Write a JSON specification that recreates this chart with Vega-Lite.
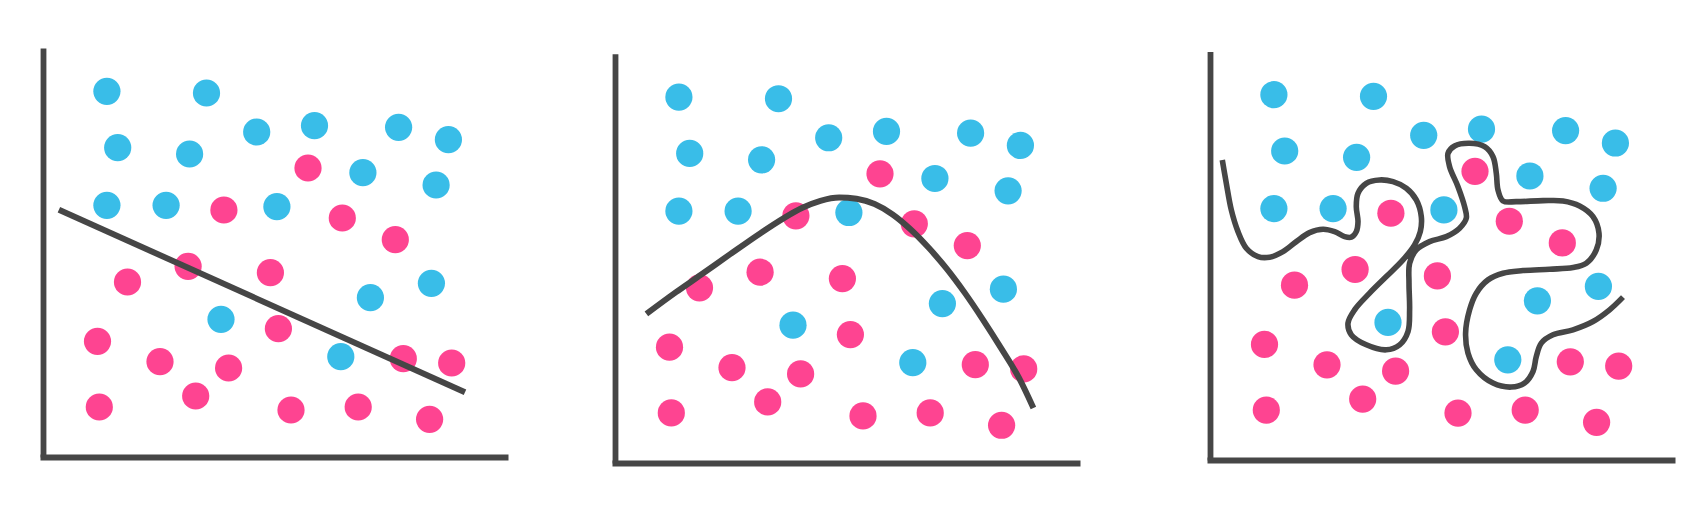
{
  "$schema": "https://vega.github.io/schema/vega-lite/v6.json",
  "background": "white",
  "padding": {"left": 43, "top": 48, "right": 5, "bottom": 5},
  "bounds": "flush",
  "spacing": 106,
  "config": {
    "view": {"stroke": null},
    "axis": {"domain": true, "domainColor": "#464646", "domainWidth": 5.8, "ticks": false, "labels": false, "grid": false, "title": null}
  },
  "datasets": {
    "pts": [
      {"x": 63.9, "y": 365.7, "c": "blue"}, {"x": 163.5, "y": 364.0, "c": "blue"}, {"x": 74.7, "y": 309.3, "c": "blue"},
      {"x": 146.6, "y": 303.0, "c": "blue"}, {"x": 213.7, "y": 325.0, "c": "blue"}, {"x": 271.5, "y": 331.3, "c": "blue"},
      {"x": 355.6, "y": 329.7, "c": "blue"}, {"x": 405.4, "y": 317.3, "c": "blue"}, {"x": 319.9, "y": 284.3, "c": "blue"},
      {"x": 393.1, "y": 272.0, "c": "blue"}, {"x": 63.9, "y": 251.7, "c": "blue"}, {"x": 123.1, "y": 251.7, "c": "blue"},
      {"x": 233.9, "y": 250.3, "c": "blue"}, {"x": 388.4, "y": 173.7, "c": "blue"}, {"x": 327.4, "y": 159.3, "c": "blue"},
      {"x": 178.0, "y": 137.7, "c": "blue"}, {"x": 297.8, "y": 100.3, "c": "blue"},
      {"x": 265.0, "y": 289.0, "c": "pink"}, {"x": 180.9, "y": 247.0, "c": "pink"}, {"x": 299.3, "y": 239.0, "c": "pink"},
      {"x": 352.3, "y": 217.3, "c": "pink"}, {"x": 145.1, "y": 190.7, "c": "pink"}, {"x": 84.5, "y": 175.0, "c": "pink"},
      {"x": 227.4, "y": 184.3, "c": "pink"}, {"x": 235.4, "y": 128.3, "c": "pink"}, {"x": 54.5, "y": 115.7, "c": "pink"},
      {"x": 117.0, "y": 95.3, "c": "pink"}, {"x": 185.6, "y": 89.0, "c": "pink"}, {"x": 360.3, "y": 98.3, "c": "pink"},
      {"x": 408.7, "y": 94.0, "c": "pink"}, {"x": 56.3, "y": 50.0, "c": "pink"}, {"x": 152.7, "y": 61.0, "c": "pink"},
      {"x": 248.0, "y": 47.0, "c": "pink"}, {"x": 315.2, "y": 50.0, "c": "pink"}, {"x": 386.6, "y": 37.7, "c": "pink"}
    ],
    "l1": [{"x": 15.9, "y": 247.3}, {"x": 422.0, "y": 64.7}],
    "l2": [
      {"x": 31.4, "y": 149.0}, {"x": 61.0, "y": 170.7}, {"x": 86.3, "y": 188.3}, {"x": 115.2, "y": 208.7},
      {"x": 144.0, "y": 228.7}, {"x": 169.3, "y": 245.0}, {"x": 187.4, "y": 255.0}, {"x": 205.4, "y": 262.0},
      {"x": 224.2, "y": 265.3}, {"x": 241.5, "y": 264.0}, {"x": 259.6, "y": 258.7}, {"x": 277.6, "y": 248.3},
      {"x": 295.7, "y": 233.3}, {"x": 313.7, "y": 215.0}, {"x": 331.8, "y": 194.0}, {"x": 349.8, "y": 170.0},
      {"x": 367.9, "y": 143.3}, {"x": 385.9, "y": 115.0}, {"x": 404.0, "y": 85.0}, {"x": 418.4, "y": 55.0}
    ],
    "l3": [
      {"i": 1, "x": 12.3, "y": 300.3}, {"i": 2, "x": 16.3, "y": 277.0}, {"i": 3, "x": 21.3, "y": 250.3}, {"i": 4, "x": 28.0, "y": 228.6},
      {"i": 5, "x": 36.3, "y": 212.0}, {"i": 6, "x": 48.0, "y": 203.6}, {"i": 7, "x": 59.6, "y": 203.0}, {"i": 8, "x": 73.0, "y": 208.6},
      {"i": 9, "x": 86.3, "y": 218.6}, {"i": 10, "x": 99.6, "y": 227.6}, {"i": 11, "x": 113.0, "y": 231.0}, {"i": 12, "x": 124.6, "y": 228.6},
      {"i": 13, "x": 134.6, "y": 223.6}, {"i": 14, "x": 141.3, "y": 223.0}, {"i": 15, "x": 146.3, "y": 228.6}, {"i": 16, "x": 148.0, "y": 238.6},
      {"i": 17, "x": 146.3, "y": 253.6}, {"i": 18, "x": 148.0, "y": 267.0}, {"i": 19, "x": 156.3, "y": 277.0}, {"i": 20, "x": 169.6, "y": 280.3},
      {"i": 21, "x": 183.0, "y": 278.6}, {"i": 22, "x": 196.3, "y": 272.0}, {"i": 23, "x": 206.3, "y": 260.3}, {"i": 24, "x": 211.3, "y": 243.6},
      {"i": 25, "x": 210.3, "y": 228.6}, {"i": 26, "x": 204.6, "y": 215.3}, {"i": 27, "x": 193.0, "y": 200.3}, {"i": 28, "x": 176.3, "y": 183.6},
      {"i": 29, "x": 159.6, "y": 167.0}, {"i": 30, "x": 144.6, "y": 150.3}, {"i": 31, "x": 138.0, "y": 137.0}, {"i": 32, "x": 141.3, "y": 125.3},
      {"i": 33, "x": 156.3, "y": 115.3}, {"i": 34, "x": 176.3, "y": 110.3}, {"i": 35, "x": 189.6, "y": 115.3}, {"i": 36, "x": 198.0, "y": 128.6},
      {"i": 37, "x": 199.6, "y": 150.3}, {"i": 38, "x": 199.0, "y": 177.0}, {"i": 39, "x": 199.6, "y": 197.0}, {"i": 40, "x": 206.3, "y": 210.3},
      {"i": 41, "x": 219.6, "y": 218.6}, {"i": 42, "x": 236.3, "y": 223.6}, {"i": 43, "x": 249.6, "y": 232.0}, {"i": 44, "x": 256.3, "y": 242.0},
      {"i": 45, "x": 254.6, "y": 253.6}, {"i": 46, "x": 248.0, "y": 273.6}, {"i": 47, "x": 239.6, "y": 293.6}, {"i": 48, "x": 238.0, "y": 307.0},
      {"i": 49, "x": 244.6, "y": 314.3}, {"i": 50, "x": 259.6, "y": 317.0}, {"i": 51, "x": 274.6, "y": 313.6}, {"i": 52, "x": 283.0, "y": 303.6},
      {"i": 53, "x": 286.3, "y": 287.0}, {"i": 54, "x": 288.0, "y": 270.3}, {"i": 55, "x": 293.0, "y": 259.3}, {"i": 56, "x": 306.3, "y": 258.6},
      {"i": 57, "x": 333.0, "y": 259.6}, {"i": 58, "x": 353.0, "y": 259.3}, {"i": 59, "x": 369.6, "y": 254.3}, {"i": 60, "x": 383.0, "y": 243.6},
      {"i": 61, "x": 389.0, "y": 227.0}, {"i": 62, "x": 386.3, "y": 210.3}, {"i": 63, "x": 376.3, "y": 197.0}, {"i": 64, "x": 363.0, "y": 192.6},
      {"i": 65, "x": 339.6, "y": 191.0}, {"i": 66, "x": 313.0, "y": 189.6}, {"i": 67, "x": 293.0, "y": 187.0}, {"i": 68, "x": 278.0, "y": 180.3},
      {"i": 69, "x": 266.3, "y": 167.0}, {"i": 70, "x": 259.6, "y": 150.3}, {"i": 71, "x": 255.6, "y": 127.0}, {"i": 72, "x": 258.0, "y": 107.0},
      {"i": 73, "x": 266.3, "y": 90.3}, {"i": 74, "x": 283.0, "y": 77.0}, {"i": 75, "x": 301.3, "y": 73.0}, {"i": 76, "x": 314.6, "y": 77.0},
      {"i": 77, "x": 323.0, "y": 88.6}, {"i": 78, "x": 326.3, "y": 103.6}, {"i": 79, "x": 331.3, "y": 117.0}, {"i": 80, "x": 343.0, "y": 125.3},
      {"i": 81, "x": 363.0, "y": 130.3}, {"i": 82, "x": 383.0, "y": 138.6}, {"i": 83, "x": 399.6, "y": 150.3}, {"i": 84, "x": 413.0, "y": 163.0}
    ]
  },
  "hconcat": [
    {
      "width": 465.3,
      "height": 409,
      "layer": [
        {
          "data": {"name": "pts"},
          "mark": {"type": "circle", "size": 740, "opacity": 1},
          "encoding": {
            "x": {"field": "x", "type": "quantitative", "scale": {"domain": [-3, 465], "range": [-3, 465], "nice": false, "zero": false}},
            "y": {"field": "y", "type": "quantitative", "scale": {"domain": [0, 409], "range": [409, 0], "nice": false, "zero": false}},
            "color": {"field": "c", "type": "nominal", "scale": {"domain": ["blue", "pink"], "range": ["#39BDE8", "#FE4491"]}, "legend": null}
          }
        },
        {
          "data": {"name": "l1"},
          "mark": {"type": "line", "color": "#464646", "strokeWidth": 6},
          "encoding": {
            "x": {"field": "x", "type": "quantitative"},
            "y": {"field": "y", "type": "quantitative"}
          }
        }
      ]
    },
    {
      "width": 488.4,
      "height": 415,
      "layer": [
        {
          "data": {"name": "pts"},
          "mark": {"type": "circle", "size": 740, "opacity": 1},
          "encoding": {
            "x": {"field": "x", "type": "quantitative", "scale": {"domain": [-3, 465], "range": [-3, 465], "nice": false, "zero": false}},
            "y": {"field": "y", "type": "quantitative", "scale": {"domain": [0, 409], "range": [415, 5.7], "nice": false, "zero": false}},
            "color": {"field": "c", "type": "nominal", "scale": {"domain": ["blue", "pink"], "range": ["#39BDE8", "#FE4491"]}, "legend": null}
          }
        },
        {
          "data": {"name": "l2"},
          "mark": {"type": "line", "color": "#464646", "strokeWidth": 6, "interpolate": "monotone"},
          "encoding": {
            "x": {"field": "x", "type": "quantitative"},
            "y": {"field": "y", "type": "quantitative"}
          }
        }
      ]
    },
    {
      "width": 465,
      "height": 412,
      "layer": [
        {
          "data": {"name": "pts"},
          "mark": {"type": "circle", "size": 740, "opacity": 1},
          "encoding": {
            "x": {"field": "x", "type": "quantitative", "scale": {"domain": [-3, 465], "range": [-3, 465], "nice": false, "zero": false}},
            "y": {"field": "y", "type": "quantitative", "scale": {"domain": [0, 409], "range": [412, 3.4], "nice": false, "zero": false}},
            "color": {"field": "c", "type": "nominal", "scale": {"domain": ["blue", "pink"], "range": ["#39BDE8", "#FE4491"]}, "legend": null}
          }
        },
        {
          "data": {"name": "l3"},
          "mark": {"type": "line", "color": "#464646", "strokeWidth": 5.6, "interpolate": "catmull-rom"},
          "encoding": {
            "x": {"field": "x", "type": "quantitative"},
            "y": {"field": "y", "type": "quantitative"},
            "order": {"field": "i", "type": "quantitative"}
          }
        }
      ]
    }
  ]
}
